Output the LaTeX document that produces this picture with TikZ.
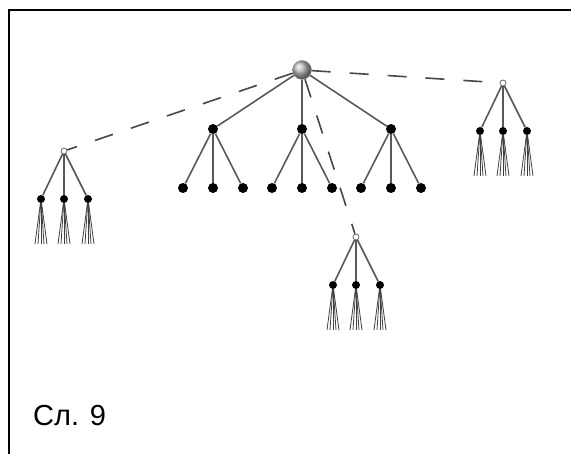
\documentclass[tikz,border=0pt]{standalone}
\usepackage{fontspec}
\setmainfont{Liberation Sans}
\begin{document}
\begin{tikzpicture}[x=1pt,y=-1pt,
  edge/.style={draw=black!65, line width=1.6pt},
  dashlink/.style={draw=black!72, line width=1.6pt, dash pattern=on 19pt off 19pt},
  fanline/.style={draw=black!75, line width=0.8pt},
  rootball/.style={circle, minimum size=19pt, inner sep=0pt, shading=ball, ball color=gray!55, draw=gray!80, line width=0.5pt},
  midnode/.style={circle, fill=black, inner sep=0pt, minimum size=10pt},
  leafnode/.style={circle, fill=black, inner sep=0pt, minimum size=10pt},
  smallnode/.style={circle, draw=black!60, fill=white, inner sep=0pt, minimum size=6pt, line width=0.8pt},
  subnode/.style={circle, fill=black, inner sep=0pt, minimum size=8pt}]
\useasboundingbox (0,0) rectangle (571,454);
\draw[line width=2pt] (9,470) -- (9,10) -- (590,10);
% root and main tree
\node[rootball] (r) at (302,70) {};
\foreach \i/\x in {1/213,2/302,3/391} {
  \node[midnode] (m\i) at (\x,129) {};
  \draw[edge] (r) -- (m\i);
  \foreach \j/\d in {1/-30,2/0,3/30} {
    \node[leafnode] (l\i\j) at (\x+\d,188) {};
    \draw[edge] (m\i) -- (l\i\j);
  }
}
% mini trees
\newcommand\mytree[3]{%
  \node[smallnode] (#1) at (#2,#3) {};
  \foreach \j/\d in {1/-23,2/0,3/24} {
    \node[subnode] (#1c\j) at (#2+\d,#3+48) {};
    \draw[edge] (#1) -- (#1c\j);
    \foreach \k/\e in {1/-6,2/-3,3/0,4/3,5/6} {
      \coordinate (#1c\j f\k) at (#2+\d+\e,#3+93);
      \draw[fanline] (#1c\j) -- (#1c\j f\k);
    }
  }
}
\mytree{tl}{64}{151}
\mytree{tr}{503}{83}
\mytree{tb}{356}{237}
\draw[dashlink] (r) -- (tl);
\draw[dashlink] (r) -- (tr);
\draw[dashlink] (r) -- (tb);
\node[font=\fontsize{29}{34}\selectfont, anchor=base west, inner sep=0pt] (cap) at (33,426) {Сл. 9};
\end{tikzpicture}
\end{document}
